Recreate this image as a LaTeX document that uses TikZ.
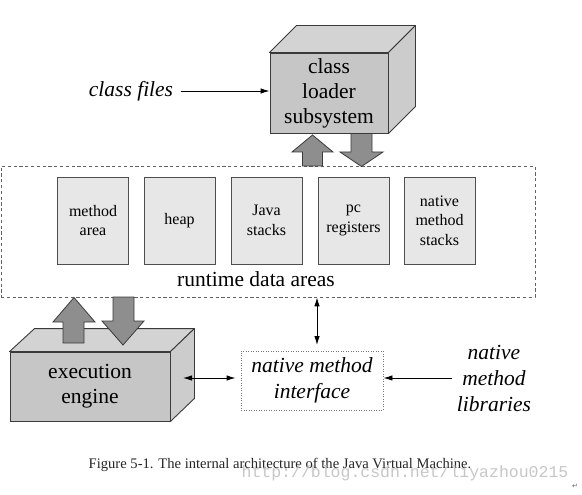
\documentclass[tikz,border=0pt]{standalone}
\usepackage{fontspec}
\setmainfont{Liberation Serif}
\newfontfamily\wmfont{Liberation Mono}
\newfontfamily\symfont{DejaVu Sans}
\usetikzlibrary{arrows.meta}
\definecolor{frontgray}{HTML}{C6C6C6}
\definecolor{topgray}{HTML}{D3D3D3}
\definecolor{sidegray}{HTML}{CCCCCC}
\definecolor{arrowgray}{HTML}{8E8E8E}
\definecolor{innerfill}{HTML}{E7E7E7}
\definecolor{edgegray}{HTML}{3A3A3A}
\tikzset{
  bigtext/.style={font=\fontsize{21.5}{25}\selectfont, align=center},
  italtext/.style={font=\fontsize{21.5}{26}\selectfont\itshape, align=center},
  front/.style={draw=edgegray, line width=0.9pt, fill=frontgray, inner sep=0pt, bigtext},
  topface/.style={draw=edgegray, line width=0.9pt, fill=topgray, line join=round},
  sideface/.style={draw=edgegray, line width=0.9pt, fill=sidegray, line join=round},
  blockarrow/.style={draw=edgegray, line width=0.8pt, fill=arrowgray, line join=miter},
  areabox/.style={draw=edgegray!90, line width=0.8pt, fill=innerfill, minimum width=71pt, minimum height=87pt, inner sep=0pt, align=center, font=\fontsize{16}{19.5}\selectfont},
  dashbox/.style={draw=edgegray!80, line width=0.8pt, dash pattern=on 3.2pt off 2.6pt, inner sep=0pt},
  dotbox/.style={draw=edgegray!70, line width=0.9pt, dash pattern=on 0.9pt off 1.6pt, inner sep=0pt},
  conn/.style={draw=black, line width=0.9pt, -{Latex[length=9pt,width=5.5pt]}},
  dconn/.style={draw=black, line width=0.9pt, {Latex[length=9pt,width=5.5pt]}-{Latex[length=9pt,width=5.5pt]}},
}
\begin{document}
\begin{tikzpicture}[x=1pt,y=-1pt]
\useasboundingbox (0,0) rectangle (582,495);
\fill[white] (0,0) rectangle (582,495);

% runtime data areas (dashed)
\node[dashbox, minimum width=534pt, minimum height=131pt] (rda) at (268,231.5) {};
\node[bigtext] (rdalabel) at (256,279) {runtime data areas};

% inner area boxes
\node[areabox] (ma) at (93,220.5) {method\\area};
\node[areabox] (hp) at (179.5,220.5) {heap};
\node[areabox] (js) at (266.5,220.5) {Java\\stacks};
\node[areabox] (pc) at (353.5,220.5) {pc\\registers};
\node[areabox] (nms) at (439.5,220.5) {native\\method\\stacks};

% class loader subsystem box
\node[front, minimum width=118pt, minimum height=80pt] (cl) at (329,93) {class\\loader\\subsystem};
\draw[topface] (cl.north west) -- ([shift={(27,-27)}]cl.north west) -- ([shift={(27,-27)}]cl.north east) -- (cl.north east) -- cycle;
\draw[sideface] (cl.north east) -- ([shift={(27,-27)}]cl.north east) -- ([shift={(27,-27)}]cl.south east) -- (cl.south east) -- cycle;

% arrows between class loader and runtime areas
\draw[blockarrow] (312.5,135) -- (333,152) -- (322.5,152) -- (322.5,166) -- (302.5,166) -- (302.5,152) -- (292,152) -- cycle;
\draw[blockarrow] (361.5,166.5) -- (383,152) -- (372,152) -- (372,133.5) -- (351,133.5) -- (351,152) -- (340,152) -- cycle;

% execution engine box
\node[front, minimum width=160pt, minimum height=69pt] (ee) at (90,386.5) {execution\\engine};
\draw[topface] (ee.north west) -- ([shift={(25,-23)}]ee.north west) -- ([shift={(24,-23)}]ee.north east) -- (ee.north east) -- cycle;
\draw[sideface] (ee.north east) -- ([shift={(24,-23)}]ee.north east) -- ([shift={(24,-23)}]ee.south east) -- (ee.south east) -- cycle;

% arrows between runtime areas and execution engine
\draw[blockarrow] (74,297.5) -- (95,322) -- (84,322) -- (84,343) -- (63,343) -- (63,322) -- (53,322) -- cycle;
\draw[blockarrow] (123,345) -- (144,321) -- (134,321) -- (134,297) -- (113,297) -- (113,321) -- (102,321) -- cycle;

% native method interface
\node[dotbox, minimum width=142pt, minimum height=59pt, italtext] (nmi) at (312,380.5) {native method\\interface};

% texts
\node[italtext] (cf) at (131,91) {class files};
\node[italtext] (nml) at (494,378) {native\\method\\libraries};

% connectors
\draw[conn] (cf.east) ++(4,0) coordinate (cfs) -- (cfs -| cl.west);
\coordinate (va) at (317,345);
\draw[dconn] (va |- rda.south) -- (va);
\coordinate (ha) at (183,378);
\draw[dconn] (ha) -- ([xshift=-5pt]nmi.west |- ha);
\draw[conn] (nml.west |- ha) ++(-1,0) coordinate (nls) -- (nmi.east |- nls);

% caption and watermark
\node[font=\fontsize{14.6}{16}\selectfont, text=black!85] (cap) at (280,465) {Figure 5-1. The internal architecture of the Java Virtual Machine.};
\node[font=\fontsize{16.5}{18}\selectfont\wmfont, text=black!22] (wm) at (405,473) {http://blog.csdn.net/liyazhou0215};
\node[font=\fontsize{7}{8}\selectfont\symfont, text=black!60] (ret) at (575,486) {↵};
\end{tikzpicture}
\end{document}
